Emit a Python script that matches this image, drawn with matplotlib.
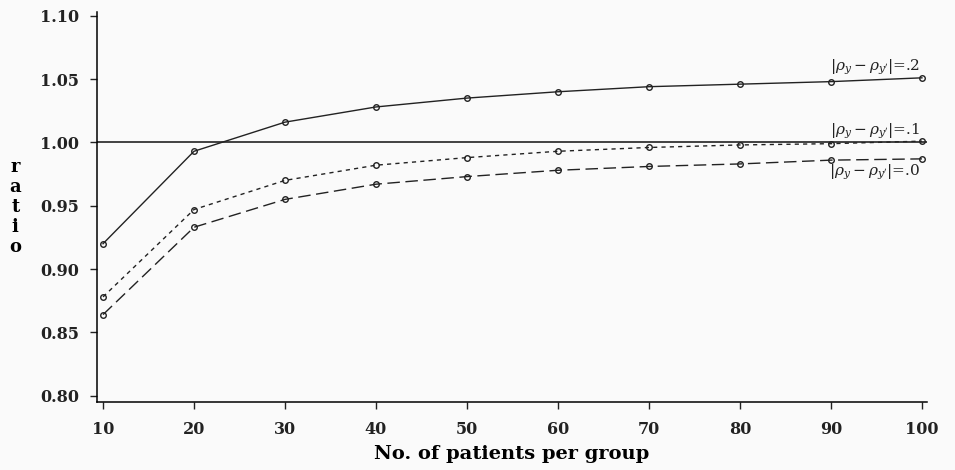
import matplotlib.pyplot as plt

# patients per group and ratio for each |rho_y - rho_y'| setting
n_patients = [10, 20, 30, 40, 50, 60, 70, 80, 90, 100]
ratio_02 = [0.920, 0.993, 1.016, 1.028, 1.035, 1.040, 1.044, 1.046, 1.048, 1.051]
ratio_01 = [0.878, 0.947, 0.970, 0.982, 0.988, 0.993, 0.996, 0.998, 0.999, 1.001]
ratio_00 = [0.864, 0.933, 0.955, 0.967, 0.973, 0.978, 0.981, 0.983, 0.986, 0.987]
y_ticks = [0.80, 0.85, 0.90, 0.95, 1.00, 1.05, 1.10]

plt.rcParams['font.family'] = ['DejaVu Serif']
plt.rcParams['mathtext.fontset'] = 'dejavuserif'

fig = plt.figure(figsize=(9.55, 4.7), dpi=100)
fig.patch.set_facecolor('#fafafa')
ax = fig.add_axes([0.1016, 0.1447, 0.869, 0.8298])
ax.set_facecolor('#fafafa')

mk = dict(marker='o', markersize=4, markerfacecolor='none', markeredgewidth=1.0, color='#222222', lw=1.0)
ax.plot(n_patients, ratio_02, linestyle='-', **mk)
ax.plot(n_patients, ratio_01, linestyle=(0, (3, 3)), **mk)
ax.plot(n_patients, ratio_00, linestyle=(0, (9, 4)), **mk)
ax.axhline(1.0, color='#222222', lw=1.2)

ax.set_xlim(9.34, 100.55)
ax.set_ylim(0.795, 1.103)
ax.set_xticks(n_patients)
ax.set_yticks(y_ticks)
ax.set_yticklabels([f'{v:.2f}' for v in y_ticks])
for s in ['top', 'right']:
    ax.spines[s].set_visible(False)
for s in ['left', 'bottom']:
    ax.spines[s].set_linewidth(1.1)
ax.tick_params(axis='both', direction='out', length=5, width=1, labelsize=11.5, colors='#222222')
for lab in ax.get_xticklabels() + ax.get_yticklabels():
    lab.set_fontweight('bold')
ax.tick_params(axis='x', pad=9)
ax.tick_params(axis='y', pad=8)

ax.set_xlabel('No. of patients per group', fontsize=14, fontweight='bold', labelpad=5)
fig.text(0.016, 0.56, 'r\na\nt\ni\no', fontsize=13, fontweight='bold', ha='center', va='center',
         linespacing=1.15)

lab_kw = dict(fontsize=11, ha='right', color='#222222')
ax.text(99.8, 1.052, r"$|\rho_y - \rho_{y'}|$=.2", va='bottom', **lab_kw)
ax.text(99.8, 1.001, r"$|\rho_y - \rho_{y'}|$=.1", va='bottom', **lab_kw)
ax.text(99.8, 0.984, r"$|\rho_y - \rho_{y'}|$=.0", va='top', **lab_kw)

fig.savefig('out.png', dpi=100, facecolor=fig.get_facecolor())
